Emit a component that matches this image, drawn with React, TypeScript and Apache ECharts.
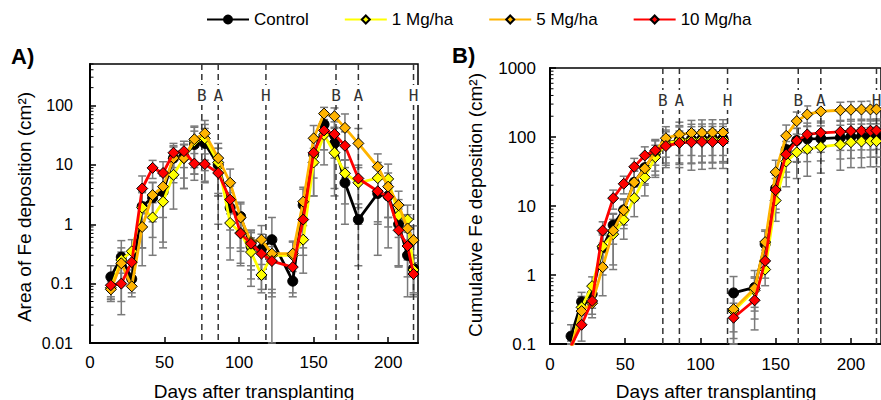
import React, { useEffect, useRef } from 'react';
import * as echarts from 'echarts';

// ---------- data ----------
const CYCLE1_DAYS = [14, 21, 28, 35, 42, 49, 56, 63, 70, 77, 86, 94, 101, 108, 115];
const CYCLE2_DAYS = [122, 136, 143, 150, 157, 164, 171, 180, 193, 200, 207, 213, 217];
const AREA_DAYS = [...CYCLE1_DAYS, ...CYCLE2_DAYS];

// Panel A: area of Fe deposition (cm2)
const AREA_CONTROL = [0.13, 0.28, 0.12, 2.0, 2.8, 3.5, 13, 14, 22, 23, 10, 1.9, 1.35, 0.42, 0.38, 0.55, 0.11, 2.1, 15, 48, 23, 5.0, 1.2, 3.3, 3.0, 1.0, 0.3, 0.18];
const AREA_1MG = [0.085, 0.25, 0.35, 1.9, 1.3, 2.4, 6.8, 13, 25, 28, 11, 1.05, 0.72, 0.34, 0.14, 0.3, 0.3, 0.55, 11, 32, 16, 7.2, 5.0, 6.0, 5.8, 1.4, 1.2, 0.17];
const AREA_5MG = [0.08, 0.22, 0.09, 0.9, 3.1, 4.3, 13, 13, 27, 34, 13, 5.0, 1.3, 0.5, 0.55, 0.32, 0.32, 2.4, 28, 73, 66, 42, 23, 9.3, 4.3, 2.1, 0.85, 0.54];
const AREA_10MG = [0.094, 0.1, 0.23, 4.0, 8.9, 7.3, 16, 17, 10.5, 10.3, 7.3, 2.6, 0.7, 0.47, 0.32, 0.24, 0.19, 1.2, 16, 38, 33, 21, 5.9, 3.6, 2.9, 0.79, 0.43, 0.145];

const AREA_CONTROL_SD = [0.07, 0.25, 0.05, 1.6, 2.2, 3.0, 7, 8, 15, 18, 9, 1.5, 1.0, 0.3, 0.3, 0.75, 0.05, 1.8, 12, 30, 20, 4, 1.0, 3.0, 2.6, 0.8, 0.24, 0.12];
const AREA_1MG_SD = [0.03, 0.15, 0.2, 1.5, 1.0, 2.0, 5, 9, 18, 20, 8, 0.8, 0.5, 0.25, 0.07, 0.22, 0.2, 0.4, 8, 22, 12, 5, 4, 5, 4.5, 1.2, 0.9, 0.1];
const AREA_5MG_SD = [0.03, 0.12, 0.03, 0.7, 2.0, 3.0, 8, 9, 18, 22, 10, 3.5, 0.9, 0.3, 0.4, 0.25, 0.2, 1.8, 18, 20, 25, 30, 18, 6, 3, 1.5, 0.6, 0.4];
const AREA_10MG_SD = [0.04, 0.05, 0.12, 2.5, 3, 4, 7, 8, 5, 5, 4, 1.8, 0.5, 0.3, 0.2, 0.18, 0.12, 0.8, 10, 20, 20, 15, 4, 2.5, 2, 0.6, 0.3, 0.08];

// Panel B: cumulative Fe deposition (cm2), per cycle
const CUM_CONTROL_C1 = [0.13, 0.41, 0.53, 2.5, 5.3, 8.8, 22, 36, 58, 81, 91, 93, 94, 95, 95];
const CUM_CONTROL_C2 = [0.55, 0.66, 2.8, 18, 66, 89, 94, 95, 98, 101, 102, 103, 103];
const CUM_1MG_C1 = [0.085, 0.34, 0.69, 2.6, 3.9, 6.3, 13, 26, 51, 79, 90, 91, 92, 92, 92];
const CUM_1MG_C2 = [0.3, 0.6, 1.2, 12, 44, 60, 67, 72, 78, 84, 86, 87, 87];
const CUM_5MG_C1 = [0.08, 0.3, 0.39, 1.3, 4.4, 8.7, 22, 35, 62, 96, 109, 114, 115, 116, 116];
const CUM_5MG_C2 = [0.32, 0.64, 3.0, 31, 104, 170, 212, 235, 244, 248, 250, 251, 252];
const CUM_10MG_C1 = [0.094, 0.19, 0.42, 4.4, 13, 21, 37, 54, 64, 74, 82, 84, 85, 85, 86];
const CUM_10MG_C2 = [0.24, 0.43, 1.6, 17, 56, 88, 109, 115, 119, 122, 123, 123, 124];

const CUM_CONTROL_SD_C1 = [0.06, 0.15, 0.2, 1.5, 2.5, 3.5, 10, 15, 30, 45, 55, 60, 60, 60, 60];
const CUM_CONTROL_SD_C2 = [0.4, 0.5, 1.5, 10, 35, 45, 50, 50, 50, 52, 52, 52, 52];
const CUM_1MG_SD_C1 = [0.03, 0.15, 0.25, 1.2, 2.5, 3, 6, 12, 25, 40, 50, 50, 50, 50, 50];
const CUM_1MG_SD_C2 = [0.25, 0.3, 0.5, 6, 25, 35, 40, 42, 45, 48, 50, 50, 50];
const CUM_5MG_SD_C1 = [0.03, 0.12, 0.15, 0.8, 3.2, 4, 10, 15, 30, 45, 55, 60, 62, 62, 62];
const CUM_5MG_SD_C2 = [0.2, 0.3, 1.5, 15, 45, 60, 70, 75, 75, 78, 78, 80, 80];
const CUM_10MG_SD_C1 = [0.04, 0.08, 0.15, 1.5, 4, 6, 12, 18, 25, 32, 40, 42, 42, 42, 42];
const CUM_10MG_SD_C2 = [0.15, 0.2, 0.7, 8, 30, 45, 50, 55, 55, 58, 58, 58, 58];

const EVENT_DAYS = [75, 86, 118, 165, 180, 217];
const EVENT_LABELS = ['B', 'A', 'H', 'B', 'A', 'H'];
const X_TICKS = [0, 50, 100, 150, 200];
const NAMES = ['Control', '1 Mg/ha', '5 Mg/ha', '10 Mg/ha'];
const COLORS = ['#000000', '#FFFF00', '#FFB400', '#FF0000'];

const Y_A = { min: 0.01, max: 500 };
const Y_B = { min: 0.1, max: 1000 };
const X_MAX = 220;
const ERR_COLOR = '#7a7a7a';
const FONT = '"Liberation Sans", Arial, sans-serif';

function pairs(days: number[], vals: number[]) {
  return days.map((d, i) => [d, vals[i]]);
}
function errPairs(days: number[], vals: number[], sd: number[], yr: { min: number; max: number }) {
  return days.map((d, i) => [d, Math.max(vals[i] - sd[i], yr.min), Math.min(vals[i] + sd[i], yr.max)]);
}

function errorRender(params: any, api: any) {
  const x = api.value(0);
  const pl = api.coord([x, api.value(1)]);
  const ph = api.coord([x, api.value(2)]);
  const w = 4;
  const st = { stroke: ERR_COLOR, lineWidth: 1.5 };
  return {
    type: 'group',
    children: [
      { type: 'line', shape: { x1: pl[0], y1: pl[1], x2: ph[0], y2: ph[1] }, style: st },
      { type: 'line', shape: { x1: pl[0] - w, y1: pl[1], x2: pl[0] + w, y2: pl[1] }, style: st },
      { type: 'line', shape: { x1: ph[0] - w, y1: ph[1], x2: ph[0] + w, y2: ph[1] }, style: st },
    ],
  };
}

function eventRender(labelOffset: number) {
  return (params: any, api: any) => {
    const x = api.coord([api.value(0), api.value(1)])[0];
    const cs = params.coordSys;
    const ly = cs.y + labelOffset;
    return {
      type: 'group',
      children: [
        { type: 'line', shape: { x1: x, y1: cs.y, x2: x, y2: cs.y + cs.height }, style: { stroke: '#333', lineWidth: 1.5, lineDash: [6, 4] } },
        { type: 'rect', shape: { x: x - 6, y: ly - 10, width: 12, height: 20 }, style: { fill: '#fff' } },
        { type: 'text', style: { text: EVENT_LABELS[params.dataIndex], x, y: ly, align: 'center', verticalAlign: 'middle', fill: '#333', font: '16px "DejaVu Sans Mono", monospace' } },
      ],
    };
  };
}

function minorRender(params: any, api: any) {
  const p = api.coord([api.value(0), api.value(1)]);
  return { type: 'line', shape: { x1: p[0], y1: p[1], x2: p[0] + 3.5, y2: p[1] }, style: { stroke: '#000', lineWidth: 1 } };
}

function minorValues(yr: { min: number; max: number }) {
  const out: number[][] = [];
  for (let k = Math.floor(Math.log10(yr.min)); k <= Math.ceil(Math.log10(yr.max)); k++) {
    for (let m = 2; m <= 9; m++) {
      const v = m * Math.pow(10, k);
      if (v > yr.min && v <= yr.max) out.push([0, v]);
    }
  }
  return out;
}

function lineSeries(idx: number, data: any[], gi: number) {
  const isCtrl = idx === 0;
  return {
    type: 'line',
    name: NAMES[idx],
    xAxisIndex: gi,
    yAxisIndex: gi,
    data,
    symbol: isCtrl ? 'circle' : 'diamond',
    symbolSize: isCtrl ? 10 : 11,
    showSymbol: true,
    connectNulls: false,
    lineStyle: { color: COLORS[idx], width: 2.8 },
    itemStyle: { color: COLORS[idx], borderColor: '#000', borderWidth: 1 },
    z: 5 + idx,
    emphasis: { disabled: true },
    silent: true,
  };
}

const logFmt = (v: number) => {
  const l = Math.log10(v);
  if (Math.abs(l - Math.round(l)) > 1e-6) return '';
  return String(+Number(v).toPrecision(1));
};

export default function App() {
  const ref = useRef<HTMLDivElement>(null);
  useEffect(() => {
    document.body.style.margin = '0';
    const chart = echarts.init(ref.current!, undefined, { renderer: 'svg' });

    const areaSets = [AREA_CONTROL, AREA_1MG, AREA_5MG, AREA_10MG];
    const areaSds = [AREA_CONTROL_SD, AREA_1MG_SD, AREA_5MG_SD, AREA_10MG_SD];
    const cumC1 = [CUM_CONTROL_C1, CUM_1MG_C1, CUM_5MG_C1, CUM_10MG_C1];
    const cumC2 = [CUM_CONTROL_C2, CUM_1MG_C2, CUM_5MG_C2, CUM_10MG_C2];
    const cumSd1 = [CUM_CONTROL_SD_C1, CUM_1MG_SD_C1, CUM_5MG_SD_C1, CUM_10MG_SD_C1];
    const cumSd2 = [CUM_CONTROL_SD_C2, CUM_1MG_SD_C2, CUM_5MG_SD_C2, CUM_10MG_SD_C2];

    const series: any[] = [];
    // error bars
    for (let i = 0; i < 4; i++) {
      series.push({ type: 'custom', xAxisIndex: 0, yAxisIndex: 0, renderItem: errorRender, data: errPairs(AREA_DAYS, areaSets[i], areaSds[i], Y_A), encode: { x: 0, y: [1, 2] }, z: 1, silent: true });
      series.push({ type: 'custom', xAxisIndex: 1, yAxisIndex: 1, renderItem: errorRender, data: [...errPairs(CYCLE1_DAYS, cumC1[i], cumSd1[i], Y_B), ...errPairs(CYCLE2_DAYS, cumC2[i], cumSd2[i], Y_B)], encode: { x: 0, y: [1, 2] }, z: 1, silent: true });
    }
    // event lines
    series.push({ type: 'custom', xAxisIndex: 0, yAxisIndex: 0, renderItem: eventRender(31), data: EVENT_DAYS.map((d) => [d, Y_A.min]), encode: { x: 0, y: 1 }, z: 2, silent: true });
    series.push({ type: 'custom', xAxisIndex: 1, yAxisIndex: 1, renderItem: eventRender(32), data: EVENT_DAYS.map((d) => [d, Y_B.min]), encode: { x: 0, y: 1 }, z: 2, silent: true });
    // minor ticks
    series.push({ type: 'custom', xAxisIndex: 0, yAxisIndex: 0, renderItem: minorRender, data: minorValues(Y_A), encode: { x: 0, y: 1 }, z: 3, silent: true });
    series.push({ type: 'custom', xAxisIndex: 1, yAxisIndex: 1, renderItem: minorRender, data: minorValues(Y_B), encode: { x: 0, y: 1 }, z: 3, silent: true });
    // lines
    for (let i = 0; i < 4; i++) {
      series.push(lineSeries(i, pairs(AREA_DAYS, areaSets[i]), 0));
      series.push(lineSeries(i, [...pairs(CYCLE1_DAYS, cumC1[i]), [118.5, '-'], ...pairs(CYCLE2_DAYS, cumC2[i])], 1));
    }

    const xAxisCfg = (gi: number, margin: number) => ({
      type: 'value',
      gridIndex: gi,
      min: 0,
      max: X_MAX,
      interval: 50,
      axisLine: { show: true, lineStyle: { color: '#000', width: 2 } },
      axisTick: { show: true, inside: true, length: 6, lineStyle: { color: '#000', width: 1.5 }, customValues: X_TICKS },
      axisLabel: { color: '#000', fontSize: 17, fontFamily: FONT, margin, customValues: X_TICKS, formatter: (v: number) => (v % 50 === 0 && v <= 200 ? String(v) : '') },
      splitLine: { show: false },
    });
    const yAxisCfg = (gi: number, yr: any, fs: number, margin: number) => ({
      type: 'log',
      logBase: 10,
      gridIndex: gi,
      min: yr.min,
      max: yr.max,
      axisLine: { show: true, lineStyle: { color: '#000', width: 2 } },
      axisTick: { show: true, inside: true, length: 6, lineStyle: { color: '#000', width: 1.5 } },
      axisLabel: { color: '#000', fontSize: fs, fontFamily: FONT, margin, formatter: logFmt, showMaxLabel: gi === 1 },
      splitLine: { show: false },
      minorTick: { show: false },
    });

    chart.setOption({
      animation: false,
      textStyle: { fontFamily: FONT },
      legend: {
        data: NAMES,
        left: 201,
        top: 6,
        itemWidth: 42,
        itemHeight: 10,
        itemGap: 35,
        selectedMode: false,
        textStyle: { fontSize: 17, color: '#000', fontFamily: FONT },
      },
      grid: [
        { left: 90, top: 64, width: 328, height: 279, show: true, borderColor: '#000', borderWidth: 1.5, backgroundColor: 'transparent' },
        { left: 550, top: 68, width: 334, height: 276, show: true, borderColor: '#000', borderWidth: 1.5, backgroundColor: 'transparent' },
      ],
      xAxis: [xAxisCfg(0, 11), xAxisCfg(1, 12)],
      yAxis: [yAxisCfg(0, Y_A, 16, 17), yAxisCfg(1, Y_B, 17, 14)],
      graphic: [
        { type: 'text', left: 11, top: 45, style: { text: 'A)', font: `bold 22px ${FONT}`, fill: '#000' } },
        { type: 'text', left: 452, top: 44, style: { text: 'B)', font: `bold 22px ${FONT}`, fill: '#000' } },
        { type: 'text', x: 24, y: 207, rotation: Math.PI / 2, style: { text: 'Area of Fe deposition (cm²)', font: `19px ${FONT}`, fill: '#000', align: 'center', verticalAlign: 'middle' } },
        { type: 'text', x: 475, y: 205, rotation: Math.PI / 2, style: { text: 'Cumulative Fe deposition (cm²)', font: `19px ${FONT}`, fill: '#000', align: 'center', verticalAlign: 'middle' } },
        { type: 'text', x: 254, y: 391, style: { text: 'Days after transplanting', font: `19px ${FONT}`, fill: '#000', align: 'center', verticalAlign: 'middle' } },
        { type: 'text', x: 716, y: 391, style: { text: 'Days after transplanting', font: `19px ${FONT}`, fill: '#000', align: 'center', verticalAlign: 'middle' } },
      ],
      series,
    });
    return () => chart.dispose();
  }, []);
  return <div ref={ref} style={{ width: 881, height: 400 }} />;
}
